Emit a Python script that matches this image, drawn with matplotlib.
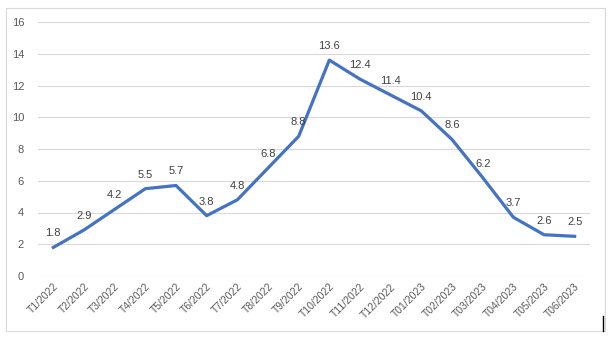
import matplotlib.pyplot as plt
from matplotlib.patches import Rectangle

plt.rcParams['font.family'] = ['Liberation Sans', 'DejaVu Sans']

months = ["T1/2022", "T2/2022", "T3/2022", "T4/2022", "T5/2022", "T6/2022",
          "T7/2022", "T8/2022", "T9/2022", "T10/2022", "T11/2022", "T12/2022",
          "T01/2023", "T02/2023", "T03/2023", "T04/2023", "T05/2023", "T06/2023"]
values = [1.8, 2.9, 4.2, 5.5, 5.7, 3.8, 4.8, 6.8, 8.8, 13.6, 12.4, 11.4,
          10.4, 8.6, 6.2, 3.7, 2.6, 2.5]
yticks = [0, 2, 4, 6, 8, 10, 12, 14, 16]

W, H = 613, 341
fig = plt.figure(figsize=(W / 100, H / 100), dpi=100)
ax = fig.add_axes([38 / W, 1 - 276 / H, (590 - 38) / W, (276 - 22) / H])

x = list(range(len(months)))
ax.plot(x, values, color='#4472C4', linewidth=2.3, solid_joinstyle='round')

for xi, v in zip(x, values):
    ax.annotate(f"{v}", (xi, v), xytext=(0, 6.5), textcoords='offset points',
                ha='center', va='bottom', fontsize=8, color='#404040')

ax.set_xlim(-0.5, len(months) - 0.5)
ax.set_ylim(0, 16)
ax.set_yticks(yticks)
ax.set_xticks(x)
ax.set_xticklabels(months, rotation=45, ha='right', rotation_mode='anchor',
                   fontsize=7.5, color='#595959')
ax.tick_params(axis='y', labelsize=8, labelcolor='#595959', length=0, pad=10)
ax.tick_params(axis='x', length=0, pad=4)
ax.grid(axis='y', color='#d9d9d9', linewidth=0.8)
ax.set_axisbelow(True)
for s in ax.spines.values():
    s.set_visible(False)

# chart frame
fig.patches.append(Rectangle((6 / W, 1 - 331 / H), (605 - 6) / W, (331 - 8) / H,
                             transform=fig.transFigure, fill=False,
                             edgecolor='#d9d9d9', linewidth=0.8))
fig.add_artist(plt.Line2D([603 / W, 603 / W], [1 - 331 / H, 1 - 316 / H],
                          transform=fig.transFigure, color='black', linewidth=1))

fig.savefig('out.png', dpi=100)
